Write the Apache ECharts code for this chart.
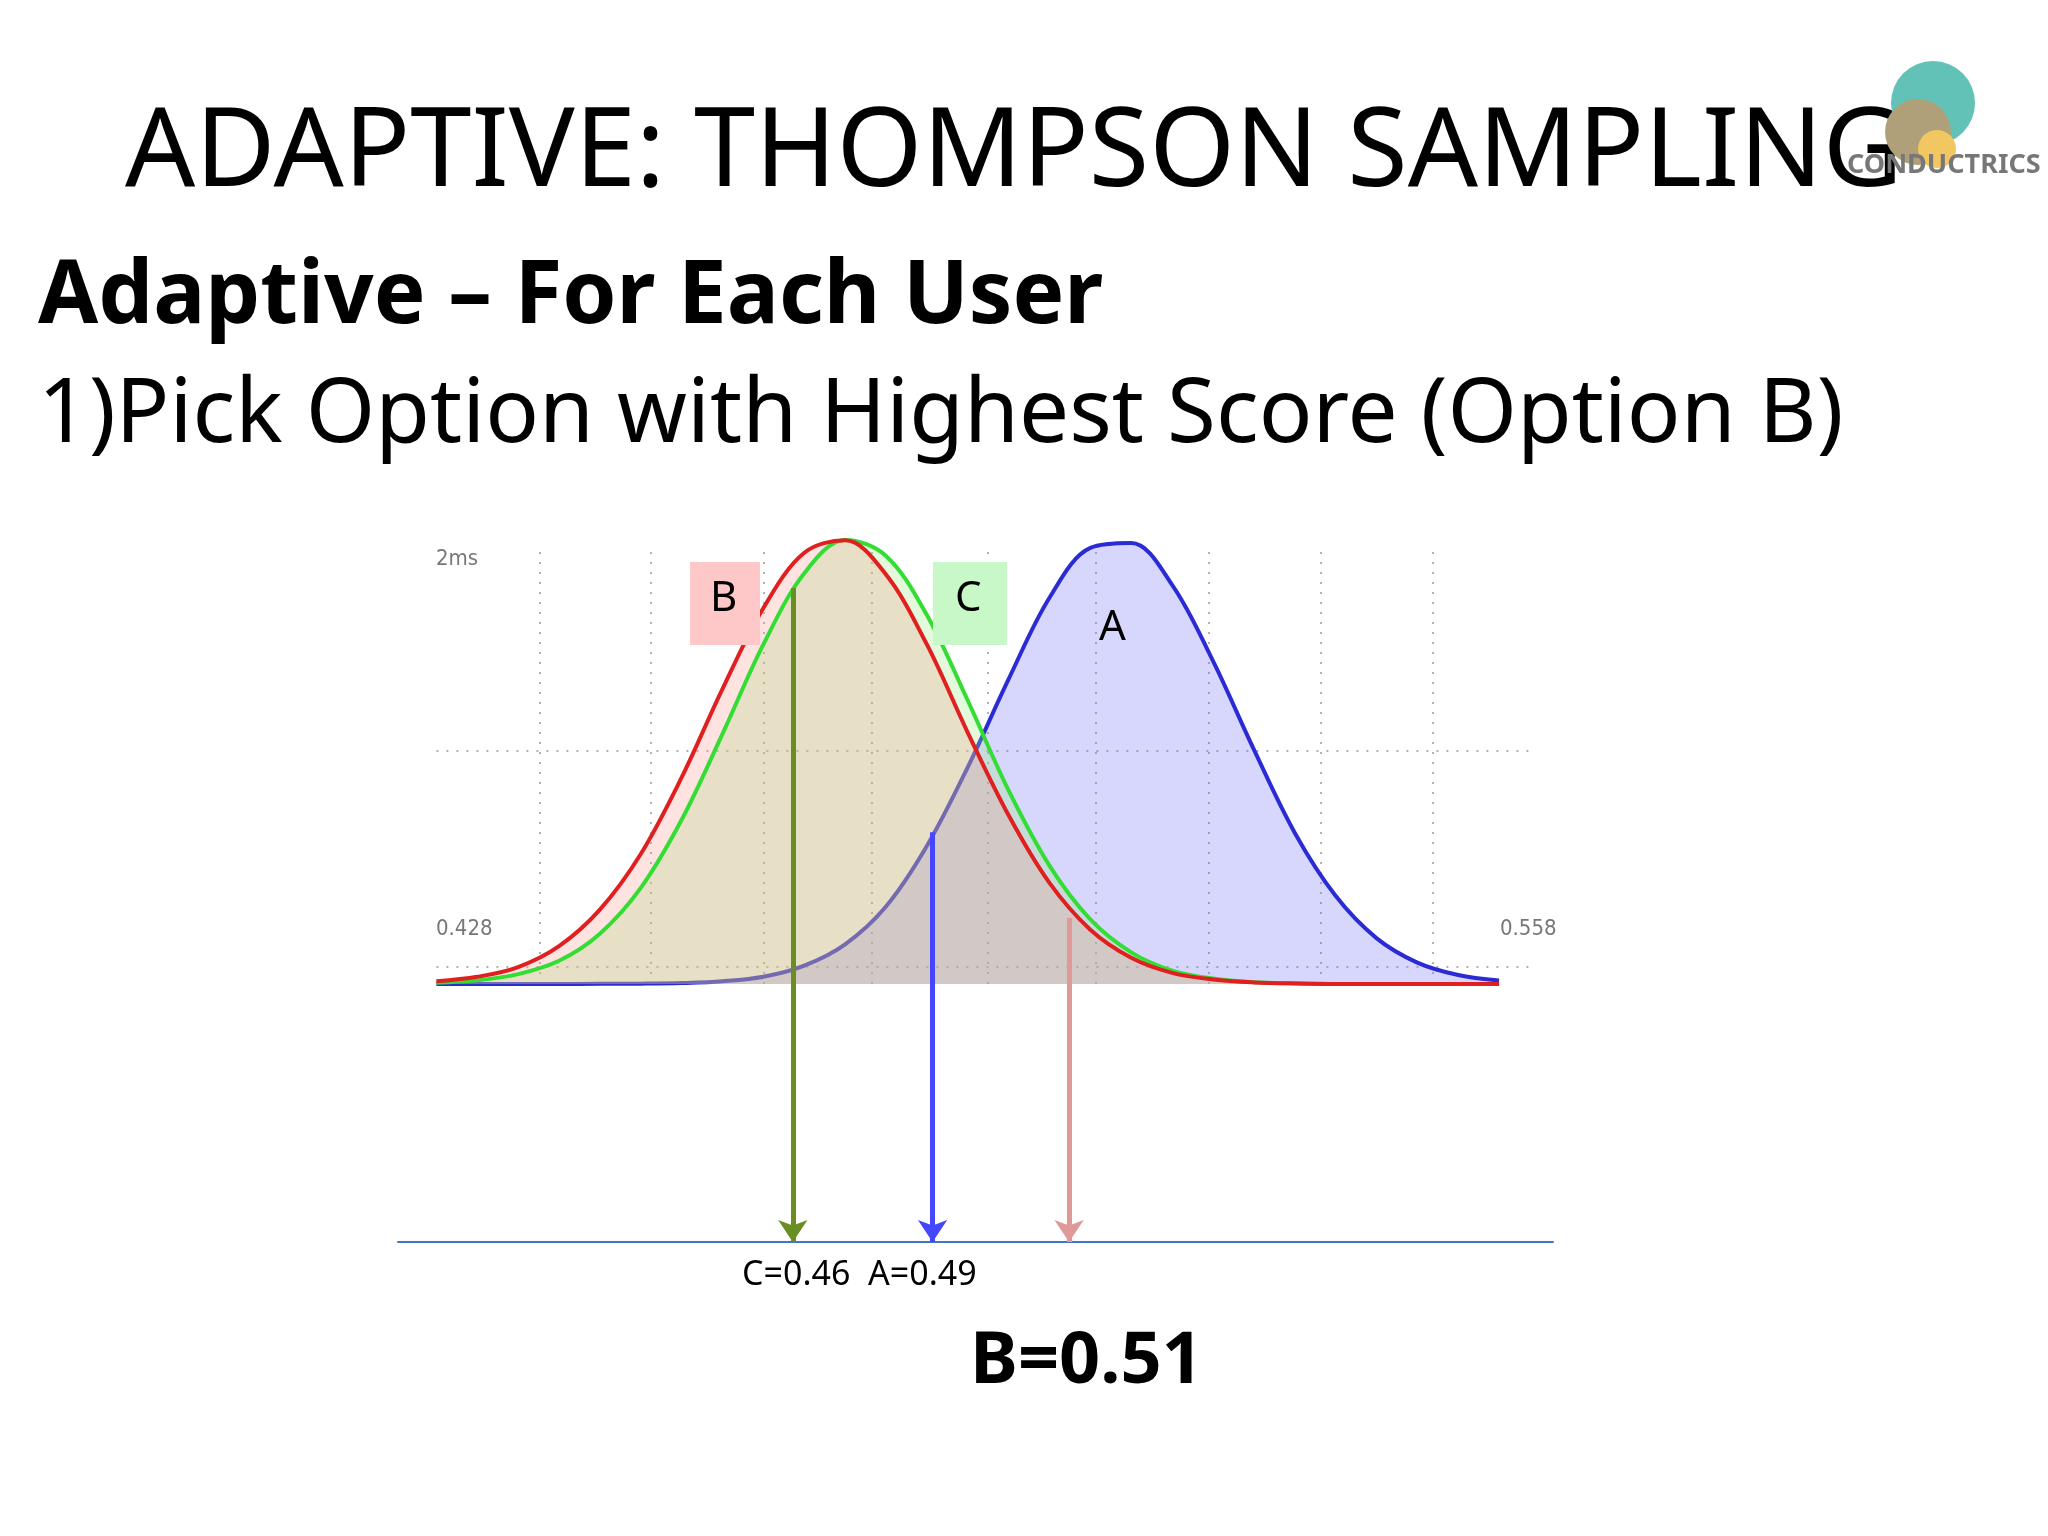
<!DOCTYPE html>
<html><head><meta charset="utf-8">
<script src="https://cdn.jsdelivr.net/npm/echarts@6/dist/echarts.min.js"></script>
<style>html,body{margin:0;padding:0;background:#fff}#c{width:2048px;height:1536px}</style>
</head><body><div id="c"></div>
<script>
// x positions of sampled density points (0.428 .. 0.558 step 0.005)
const xs = [0.428,0.433,0.438,0.443,0.448,0.453,0.458,0.463,0.468,0.473,0.478,0.483,0.488,0.493,0.498,0.503,0.508,0.513,0.518,0.523,0.528,0.533,0.538,0.543,0.548,0.553,0.558];
const densB = [0.006,0.016,0.038,0.085,0.167,0.292,0.464,0.663,0.845,0.969,0.997,0.920,0.763,0.565,0.379,0.227,0.122,0.059,0.025,0.010,0.0034,0.001,0,0,0,0,0];
const densC = [0.0027,0.008,0.022,0.052,0.113,0.216,0.369,0.562,0.763,0.923,0.998,0.962,0.829,0.637,0.435,0.266,0.145,0.071,0.030,0.012,0.004,0.0013,0,0,0,0,0];
const densA = [0,0,0,0,0.0002,0.0006,0.002,0.006,0.016,0.041,0.089,0.174,0.31,0.487,0.685,0.868,0.98,0.991,0.897,0.726,0.527,0.34,0.198,0.103,0.048,0.02,0.0075];
// sampled draws: [x, height of curve at draw]
const drawC = [0.4716, 0.89];
const drawA = [0.4887, 0.341];
const drawB = [0.5054, 0.148];
const gridXs = [0.4406,0.4542,0.4680,0.4813,0.4955,0.5087,0.5225,0.5362,0.5499];
const gridYs = [0.525,0.039];
const axisLabels = ['2ms','0.428','0.558'];
const drawLabels = ['C=0.46  A=0.49','B=0.51'];

const yBottom = -0.58;
const pts = d => xs.map((x,i)=>[x,d[i]]);
const gridLines = gridXs.map(x=>({coords:[[x,0],[x,0.98]]}))
  .concat(gridYs.map(y=>({coords:[[0.428,y],[0.5624,y]]})));
function arrow(d,color){
  return {type:'lines',coordinateSystem:'cartesian2d',z:5,
    symbol:['none','arrow'],symbolSize:[0,22],
    lineStyle:{color:color,width:5,opacity:1},
    data:[{coords:[[d[0],d[1]],[d[0],yBottom]]}]};
}
const chart = echarts.init(document.getElementById('c'));
chart.setOption({
  animation:false,
  grid:{left:398,right:495,top:539,height:703},
  xAxis:{type:'value',min:0.4233,max:0.5646,axisLine:{show:true,onZero:false,lineStyle:{color:'#4472c4',width:2}},
    axisTick:{show:false},axisLabel:{show:false},splitLine:{show:false}},
  yAxis:{type:'value',min:yBottom,max:1,show:false,splitLine:{show:false}},
  series:[
    {type:'lines',coordinateSystem:'cartesian2d',z:1,lineStyle:{color:'#999',width:1.5,type:[2,8],opacity:1},data:gridLines},
    {type:'line',data:pts(densA),smooth:0.35,showSymbol:false,z:2,
      lineStyle:{color:'#2b2bd6',width:4},areaStyle:{color:'rgba(120,120,250,0.42)'}},
    {type:'line',data:pts(densC),smooth:0.35,showSymbol:false,z:3,
      lineStyle:{color:'#33dd33',width:4},areaStyle:{color:'rgba(150,235,130,0.40)'}},
    {type:'line',data:pts(densB),smooth:0.35,showSymbol:false,z:3,
      lineStyle:{color:'#e02020',width:4},areaStyle:{color:'rgba(250,140,130,0.35)'}},
    arrow(drawC,'#6b8e23'),
    arrow(drawA,'#4646ff'),
    arrow(drawB,'#e09999')
  ],
  graphic:[
    {type:'text',left:125,top:100,style:{text:'ADAPTIVE: THOMPSON SAMPLING',font:'110px "Noto Sans"',fill:'#000'}},
    {type:'text',left:38,top:255,style:{text:'Adaptive – For Each User',font:'bold 87px "Noto Sans"',fill:'#000'}},
    {type:'text',left:38,top:372,style:{text:'1)Pick Option with Highest Score (Option B)',font:'89px "Noto Sans"',fill:'#000'}},
    {type:'circle',shape:{cx:1933,cy:103,r:42},style:{fill:'#62c2b8'}},
    {type:'circle',shape:{cx:1918,cy:132,r:33},style:{fill:'#b0a07a'}},
    {type:'circle',shape:{cx:1937,cy:149,r:19},style:{fill:'#f2c660'}},
    {type:'text',left:1847,top:152,style:{text:'CONDUCTRICS',font:'bold 27px "Noto Sans"',fill:'#777'}},
    {type:'rect',shape:{x:690,y:562,width:70,height:83},style:{fill:'#ffc8c8'},z:10},
    {type:'text',left:710,top:578,style:{text:'B',font:'42px "Noto Sans"',fill:'#000'},z:11},
    {type:'rect',shape:{x:933,y:562,width:74,height:83},style:{fill:'#c8f7c8'},z:10},
    {type:'text',left:955,top:578,style:{text:'C',font:'42px "Noto Sans"',fill:'#000'},z:11},
    {type:'text',left:1099,top:607,style:{text:'A',font:'42px "Noto Sans"',fill:'#000'},z:11},
    {type:'text',left:436,top:548,style:{text:axisLabels[0],font:'22px "DejaVu Sans Condensed"',fill:'#777'}},
    {type:'text',left:436,top:918,style:{text:axisLabels[1],font:'22px "DejaVu Sans Condensed"',fill:'#777'}},
    {type:'text',left:1500,top:918,style:{text:axisLabels[2],font:'22px "DejaVu Sans Condensed"',fill:'#777'}},
    {type:'text',left:742,top:1258,style:{text:drawLabels[0],font:'34px "Noto Sans"',fill:'#000'}},
    {type:'text',left:970,top:1326,style:{text:drawLabels[1],font:'bold 72px "Noto Sans"',fill:'#000'}}
  ]
});
</script></body></html>
